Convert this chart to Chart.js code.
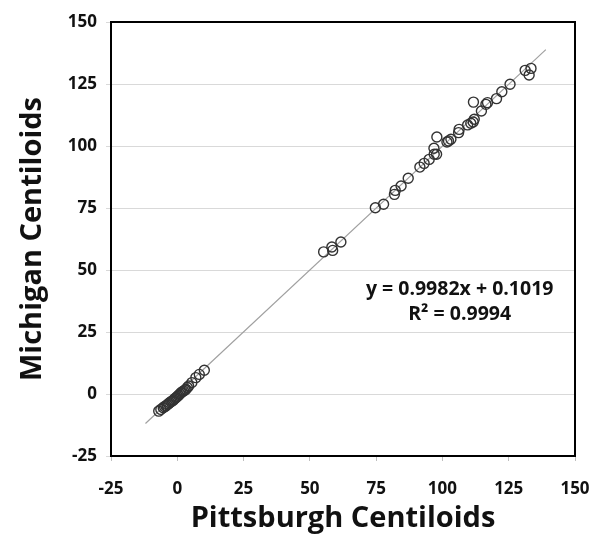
<!DOCTYPE html>
<html>
<head>
<meta charset="utf-8">
<script src="https://cdn.jsdelivr.net/npm/chart.js@4.4.1/dist/chart.umd.min.js"></script>
<style>
  html, body { margin: 0; padding: 0; background: #fff; }
  #wrap { width: 601px; height: 548px; }
</style>
</head>
<body>
<div id="wrap"><canvas id="chart" width="601" height="548"></canvas></div>
<script>
// Pittsburgh (x) vs Michigan (y) centiloid values
const pittsburgh = [
  -7.0, -6.2, -5.3, -4.8, -4.3, -3.8, -3.3, -2.9, -2.4, -1.9, -1.4, -1.0, -0.5, 0.0, 0.5, 1.0,
  1.4, 1.9, 2.4, 2.9, 3.3, 3.8, 4.3, 5.5, 7.0, 8.3, 10.2,
  55.2, 58.3, 58.6, 61.7,
  74.7, 77.8, 81.9, 82.2, 84.4, 87.1, 91.5, 93.1, 95.0, 96.9, 97.8, 96.8, 97.9,
  101.7, 102.3, 103.2, 106.1, 106.3, 109.5, 110.7, 111.6, 112.0, 111.7, 114.7,
  116.4, 117.0, 120.4, 122.4, 125.5, 131.2, 133.4, 132.7
];
const michigan = [
  -6.9, -6.2, -5.5, -5.1, -4.8, -4.3, -3.9, -3.5, -3.1, -2.8, -2.4, -1.9, -1.5, -1.0, -0.5, 0.0,
  0.5, 0.9, 1.2, 1.6, 1.9, 2.6, 3.2, 4.6, 6.6, 7.9, 9.6,
  57.3, 59.3, 57.9, 61.3,
  75.1, 76.5, 80.5, 82.1, 83.9, 87.0, 91.5, 93.0, 94.6, 96.7, 96.7, 99.1, 103.6,
  101.6, 102.0, 102.7, 105.4, 106.7, 108.5, 109.2, 109.7, 110.8, 117.7, 114.1,
  116.8, 117.5, 119.1, 121.9, 124.9, 130.5, 131.3, 128.6
];

// linear trendline shown on the chart
const slope = 0.9982;
const intercept = 0.1019;
const trendX = [-12, 139];
const equationLines = ['y = 0.9982x + 0.1019', 'R\u00b2 = 0.9994'];

const axisTicks = [-25, 0, 25, 50, 75, 100, 125, 150];

const points = pittsburgh.map((x, i) => ({ x, y: michigan[i] }));
const trend = trendX.map(x => ({ x, y: slope * x + intercept }));

const fontFamily = "'Open Sans', 'DejaVu Sans', sans-serif";

// plot frame + equation label
const frameAndLabel = {
  id: 'frameAndLabel',
  afterDraw(chart) {
    const { ctx, chartArea: a, scales } = chart;
    ctx.save();
    ctx.strokeStyle = '#000';
    ctx.lineWidth = 2;
    ctx.strokeRect(a.left, a.top, a.right - a.left, a.bottom - a.top);

    ctx.fillStyle = '#111';
    ctx.font = 'bold 19.5px ' + fontFamily;
    ctx.textAlign = 'center';
    ctx.textBaseline = 'middle';
    const cx = scales.x.getPixelForValue(106.5);
    ctx.fillText(equationLines[0], cx, scales.y.getPixelForValue(42.3));
    ctx.fillText(equationLines[1], cx, scales.y.getPixelForValue(32.0));
    ctx.restore();
  }
};

new Chart(document.getElementById('chart'), {
  type: 'scatter',
  data: {
    datasets: [
      {
        label: 'Trend',
        data: trend,
        showLine: true,
        borderColor: '#a0a0a0',
        borderWidth: 1.2,
        pointRadius: 0,
        order: 2
      },
      {
        label: 'Centiloids',
        data: points,
        pointStyle: 'circle',
        pointRadius: 5,
        borderColor: '#333',
        borderWidth: 1.4,
        backgroundColor: 'rgba(0,0,0,0)',
        order: 1
      }
    ]
  },
  options: {
    responsive: false,
    animation: false,
    layout: { padding: { top: 22, right: 26, left: 0, bottom: 0 } },
    plugins: {
      legend: { display: false },
      tooltip: { enabled: false }
    },
    scales: {
      x: {
        type: 'linear',
        min: -25,
        max: 150,
        afterBuildTicks: s => { s.ticks = axisTicks.map(v => ({ value: v })); },
        afterFit: s => { s.height = 92; s.paddingLeft = 0; s.paddingRight = 0; },
        grid: { drawOnChartArea: false, drawTicks: true, tickLength: 5, color: '#bfbfbf' },
        border: { display: false },
        ticks: {
          color: '#111',
          padding: 18,
          maxRotation: 0,
          font: { family: fontFamily, size: 17, weight: 'bold' }
        },
        title: {
          display: true,
          text: 'Pittsburgh Centiloids',
          color: '#111',
          padding: { top: 0, bottom: 12 },
          font: { family: fontFamily, size: 29, weight: 'bold' }
        }
      },
      y: {
        type: 'linear',
        min: -25,
        max: 150,
        afterBuildTicks: s => { s.ticks = axisTicks.map(v => ({ value: v })); },
        afterFit: s => { s.width = 111; s.paddingTop = 0; s.paddingBottom = 0; },
        grid: { color: '#d9d9d9', lineWidth: 1, drawTicks: true, tickLength: 5 },
        border: { display: false },
        ticks: {
          color: '#111',
          padding: 9,
          font: { family: fontFamily, size: 17, weight: 'bold' }
        },
        title: {
          display: true,
          text: 'Michigan Centiloids',
          color: '#111',
          padding: { top: 15, bottom: 0 },
          font: { family: fontFamily, size: 29, weight: 'bold' }
        }
      }
    }
  },
  plugins: [frameAndLabel]
});
</script>
</body>
</html>
